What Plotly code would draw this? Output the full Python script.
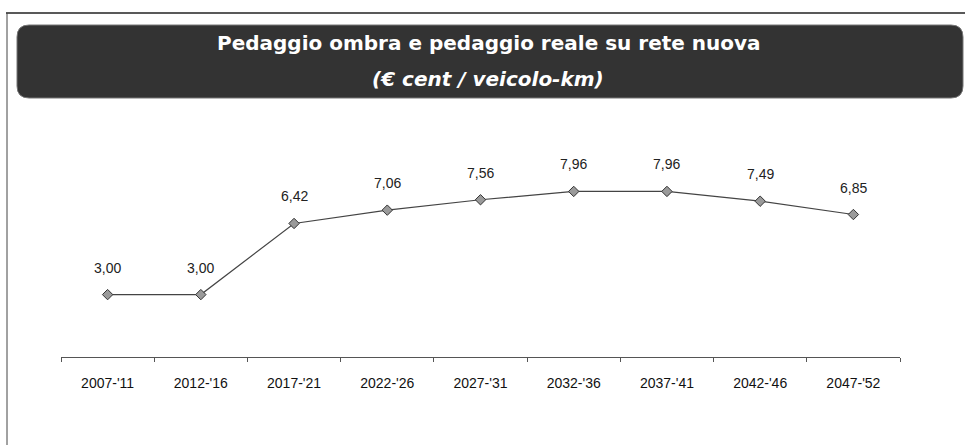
import plotly.graph_objects as go

categories = ["2007-'11", "2012-'16", "2017-'21", "2022-'26", "2027-'31",
              "2032-'36", "2037-'41", "2042-'46", "2047-'52"]
values = [3.00, 3.00, 6.42, 7.06, 7.56, 7.96, 7.96, 7.49, 6.85]
labels = ["3,00", "3,00", "6,42", "7,06", "7,56", "7,96", "7,96", "7,49", "6,85"]

W, H = 965, 445
L, R, T, B = 61, 65, 149, 88
pw, ph = W - L - R, H - T - B

def px(x):
    return (x - L) / pw

def py(y):
    return (H - B - y) / ph

fig = go.Figure()
fig.add_trace(go.Scatter(
    x=categories, y=values, mode="lines+markers",
    line=dict(color="#444444", width=1.2),
    marker=dict(symbol="diamond", size=8, color="#9a9a9a",
                line=dict(color="#333333", width=1)),
    cliponaxis=False, showlegend=False, hoverinfo="x+y",
))

# rounded banner
x0, x1, y0, y1, r = px(17), px(963), py(25), py(98), 12 / pw
ry = 12 / ph
path = (f"M {x0+r},{y0} L {x1-r},{y0} Q {x1},{y0} {x1},{y0-ry} "
        f"L {x1},{y1+ry} Q {x1},{y1} {x1-r},{y1} L {x0+r},{y1} "
        f"Q {x0},{y1} {x0},{y1+ry} L {x0},{y0-ry} Q {x0},{y0} {x0+r},{y0} Z")
shapes = [
    dict(type="path", xref="paper", yref="paper", path=path,
         fillcolor="#333333", line=dict(color="#777777", width=1)),
    dict(type="line", xref="paper", yref="paper",
         x0=px(6), x1=px(965), y0=py(13), y1=py(13),
         line=dict(color="#222222", width=1.5)),
    dict(type="line", xref="paper", yref="paper",
         x0=px(7), x1=px(7), y0=py(13), y1=py(445),
         line=dict(color="#444444", width=1)),
]

annotations = [
    dict(text="<b>Pedaggio ombra e pedaggio reale su rete nuova</b>",
         xref="paper", yref="paper", x=px(489), y=py(43),
         showarrow=False, xanchor="center", yanchor="middle",
         font=dict(family="DejaVu Sans", size=20, color="white")),
    dict(text="<b><i>(€ cent / veicolo-km)</i></b>",
         xref="paper", yref="paper", x=px(488), y=py(79),
         showarrow=False, xanchor="center", yanchor="middle",
         font=dict(family="DejaVu Sans", size=20, color="white")),
]
for c, v, t in zip(categories, values, labels):
    annotations.append(dict(
        x=c, y=v, xref="x", yref="y", text=t, showarrow=False,
        yshift=27, xanchor="center", yanchor="middle",
        font=dict(family="Liberation Sans", size=14, color="#222222")))

fig.update_layout(
    width=W, height=H,
    margin=dict(l=L, r=R, t=T, b=B),
    paper_bgcolor="white", plot_bgcolor="white",
    shapes=shapes, annotations=annotations,
    xaxis=dict(type="category", showgrid=False, showline=True,
               linecolor="#555555", linewidth=1,
               ticks="outside", tickson="boundaries", ticklen=4,
               tickcolor="#555555", ticklabelstandoff=13,
               tickfont=dict(family="Liberation Sans", size=14, color="#111111"),
               range=[-0.5, 8.5]),
    yaxis=dict(range=[0, 10], visible=False, showgrid=False, zeroline=False),
)

fig.write_html("out.html", config={"displayModeBar": False},
               post_script="document.body.style.margin='0';")
